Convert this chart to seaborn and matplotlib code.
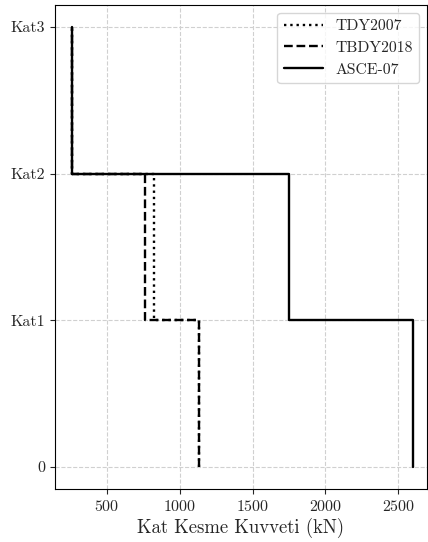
import matplotlib
matplotlib.use("Agg")
import matplotlib.pyplot as plt
import seaborn as sns
import numpy as np

sns.set_style("ticks")
plt.rcParams['font.family'] = 'serif'
plt.rcParams['font.serif'] = ['cmr10']
plt.rcParams['mathtext.fontset'] = 'cm'
plt.rcParams['axes.formatter.use_mathtext'] = True
plt.rcParams['axes.unicode_minus'] = False

levels = ["0", "Kat1", "Kat2", "Kat3"]
series_names = ["TDY2007", "TBDY2018", "ASCE-07"]
tdy2007 = [1135, 822, 260]
tbdy2018 = [1135, 761, 260]
asce07 = [2603, 1748, 260]
styles = [":", "--", "-"]

def step_path(shears):
    xs, ys = [], []
    for i, v in enumerate(shears):
        xs += [v, v]
        ys += [i, i + 1]
    return xs, ys

fig = plt.figure(figsize=(4.28, 5.42), dpi=100)
ax = fig.add_axes([55/428, 1-489/542, (427-55)/428, (489-5)/542])

for name, vals, ls in zip(series_names, [tdy2007, tbdy2018, asce07], styles):
    xs, ys = step_path(vals)
    sns.lineplot(x=xs, y=ys, sort=False, estimator=None, color="black",
                 linestyle=ls, linewidth=1.7, label=name, ax=ax)

ax.set_xlim(145, 2697)
ax.set_yticks(range(len(levels)))
ax.set_yticklabels(levels)
ax.set_xticks([500, 1000, 1500, 2000, 2500])
ax.tick_params(labelsize=11.5)
ax.set_xlabel("Kat Kesme Kuvveti (kN)", fontsize=13.5, labelpad=3)
ax.set_ylabel("")
ax.grid(True, linestyle="--", color="#d0d0d0", linewidth=0.8)
for s in ax.spines.values():
    s.set_visible(True)
    s.set_color("black")
ax.legend(loc="upper right", fontsize=11.3, handlelength=2.5)
fig.savefig("out.png", dpi=100)
